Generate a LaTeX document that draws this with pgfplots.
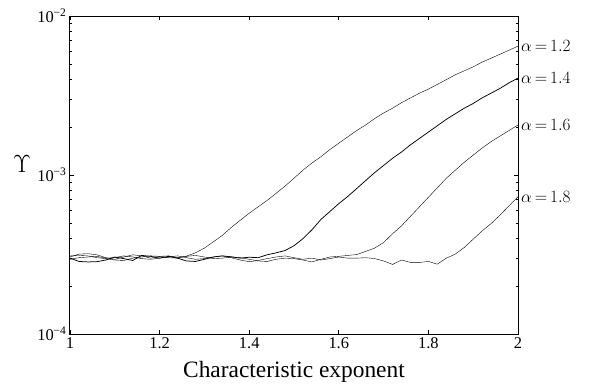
\documentclass[border=0pt]{standalone}
\usepackage{fontspec}
\setmainfont{Liberation Serif}
\usepackage{pgfplots}
\pgfplotsset{compat=1.18}
\begin{document}
\begin{tikzpicture}
\begin{axis}[
  scale only axis, width=448bp, height=318bp,
  at={(0,0)}, anchor=south west,
  xmin=1, xmax=2, ymin=1e-4, ymax=1e-2, ymode=log,
  xtick={1,1.2,1.4,1.6,1.8,2},
  ytick={1e-4,1e-3,1e-2},
  minor ytick={2e-4,3e-4,4e-4,5e-4,6e-4,7e-4,8e-4,9e-4,2e-3,3e-3,4e-3,5e-3,6e-3,7e-3,8e-3,9e-3},
  yticklabels={10\textsuperscript{−4},10\textsuperscript{−3},10\textsuperscript{−2}},
  /pgf/number format/assume math mode=true,
  tick align=inside, tick pos=both,
  xticklabel pos=lower, yticklabel pos=left,
  axis line style={line width=1bp, black},
  major tick length=4bp, minor tick length=2.5bp,
  every tick/.style={black, line width=0.7bp},
  ticklabel style={font=\fontsize{16.5}{18}\selectfont},
  xlabel={Characteristic exponent},
  xlabel style={font=\fontsize{23.5}{26}\selectfont, yshift=-6bp},
  clip=false,
  cycle list={{black, line width=0.75bp, no markers}},
]
% alpha = 1.2
\addplot coordinates {(1.00,3.05e-4)(1.02,3.18e-4)(1.04,3.20e-4)(1.06,3.15e-4)(1.08,3.02e-4)(1.10,2.95e-4)(1.12,3.05e-4)(1.14,3.15e-4)(1.16,3.10e-4)(1.18,3.00e-4)(1.20,3.08e-4)(1.22,3.10e-4)(1.24,3.02e-4)(1.26,3.09e-4)(1.28,3.24e-4)(1.30,3.47e-4)(1.32,3.80e-4)(1.34,4.17e-4)(1.36,4.68e-4)(1.38,5.19e-4)(1.40,5.75e-4)(1.42,6.31e-4)(1.44,6.92e-4)(1.46,7.67e-4)(1.48,8.51e-4)(1.50,9.55e-4)(1.52,1.072e-3)(1.54,1.189e-3)(1.56,1.303e-3)(1.58,1.445e-3)(1.60,1.585e-3)(1.62,1.738e-3)(1.64,1.905e-3)(1.66,2.065e-3)(1.68,2.265e-3)(1.70,2.455e-3)(1.72,2.63e-3)(1.74,2.85e-3)(1.76,3.055e-3)(1.78,3.27e-3)(1.80,3.47e-3)(1.82,3.715e-3)(1.84,3.98e-3)(1.86,4.27e-3)(1.88,4.52e-3)(1.90,4.79e-3)(1.92,5.13e-3)(1.94,5.43e-3)(1.96,5.75e-3)(1.98,6.10e-3)(2.00,6.46e-3)};
% alpha = 1.4
\addplot coordinates {(1.00,3.00e-4)(1.02,2.86e-4)(1.04,2.84e-4)(1.06,2.85e-4)(1.08,2.92e-4)(1.10,3.05e-4)(1.12,2.98e-4)(1.14,2.90e-4)(1.16,3.12e-4)(1.18,3.08e-4)(1.20,3.00e-4)(1.22,3.08e-4)(1.24,3.00e-4)(1.26,2.88e-4)(1.28,2.86e-4)(1.30,2.95e-4)(1.32,3.05e-4)(1.34,3.10e-4)(1.36,3.06e-4)(1.38,3.00e-4)(1.40,3.04e-4)(1.42,3.02e-4)(1.44,3.15e-4)(1.46,3.24e-4)(1.48,3.35e-4)(1.50,3.59e-4)(1.52,3.98e-4)(1.54,4.52e-4)(1.56,5.25e-4)(1.58,5.89e-4)(1.60,6.61e-4)(1.62,7.33e-4)(1.64,8.22e-4)(1.66,9.23e-4)(1.68,1.035e-3)(1.70,1.148e-3)(1.72,1.274e-3)(1.74,1.396e-3)(1.76,1.549e-3)(1.78,1.698e-3)(1.80,1.862e-3)(1.82,2.042e-3)(1.84,2.239e-3)(1.86,2.427e-3)(1.88,2.63e-3)(1.90,2.818e-3)(1.92,3.055e-3)(1.94,3.273e-3)(1.96,3.507e-3)(1.98,3.80e-3)(2.00,4.07e-3)};
% alpha = 1.6
\addplot coordinates {(1.00,3.10e-4)(1.02,3.12e-4)(1.04,3.10e-4)(1.06,3.02e-4)(1.08,2.98e-4)(1.10,2.92e-4)(1.12,2.90e-4)(1.14,3.00e-4)(1.16,3.05e-4)(1.18,3.10e-4)(1.20,3.08e-4)(1.22,3.02e-4)(1.24,3.00e-4)(1.26,3.08e-4)(1.28,3.12e-4)(1.30,3.05e-4)(1.32,2.98e-4)(1.34,3.00e-4)(1.36,3.05e-4)(1.38,3.02e-4)(1.40,2.95e-4)(1.42,2.88e-4)(1.44,2.86e-4)(1.46,2.95e-4)(1.48,3.00e-4)(1.50,2.98e-4)(1.52,2.92e-4)(1.54,2.84e-4)(1.56,2.95e-4)(1.58,3.05e-4)(1.60,3.08e-4)(1.62,3.12e-4)(1.64,3.16e-4)(1.66,3.31e-4)(1.68,3.47e-4)(1.70,3.76e-4)(1.72,4.27e-4)(1.74,4.79e-4)(1.76,5.50e-4)(1.78,6.31e-4)(1.80,7.24e-4)(1.82,8.32e-4)(1.84,9.55e-4)(1.86,1.072e-3)(1.88,1.202e-3)(1.90,1.334e-3)(1.92,1.479e-3)(1.94,1.622e-3)(1.96,1.758e-3)(1.98,1.905e-3)(2.00,2.065e-3)};
% alpha = 1.8
\addplot coordinates {(1.00,2.95e-4)(1.02,3.02e-4)(1.04,3.05e-4)(1.06,3.08e-4)(1.08,3.00e-4)(1.10,3.02e-4)(1.12,3.10e-4)(1.14,3.05e-4)(1.16,2.98e-4)(1.18,2.95e-4)(1.20,3.00e-4)(1.22,3.05e-4)(1.24,3.10e-4)(1.26,3.02e-4)(1.28,2.95e-4)(1.30,2.98e-4)(1.32,3.05e-4)(1.34,3.10e-4)(1.36,3.02e-4)(1.38,2.92e-4)(1.40,2.85e-4)(1.42,2.90e-4)(1.44,2.98e-4)(1.46,3.05e-4)(1.48,3.10e-4)(1.50,3.02e-4)(1.52,2.95e-4)(1.54,3.00e-4)(1.56,2.92e-4)(1.58,2.98e-4)(1.60,3.05e-4)(1.62,3.00e-4)(1.64,3.00e-4)(1.66,3.02e-4)(1.68,2.98e-4)(1.70,2.88e-4)(1.72,2.74e-4)(1.74,2.92e-4)(1.76,2.82e-4)(1.78,2.82e-4)(1.80,2.86e-4)(1.82,2.75e-4)(1.84,3.00e-4)(1.86,3.18e-4)(1.88,3.50e-4)(1.90,3.95e-4)(1.92,4.45e-4)(1.94,4.95e-4)(1.96,5.60e-4)(1.98,6.40e-4)(2.00,7.30e-4)};
\node[anchor=west, inner sep=3bp, font=\fontsize{18}{19}\selectfont] at (axis cs:2,6.46e-3) {$\alpha\,{=}\,1.2$};
\node[anchor=west, inner sep=3bp, font=\fontsize{18}{19}\selectfont] at (axis cs:2,4.07e-3) {$\alpha\,{=}\,1.4$};
\node[anchor=west, inner sep=3bp, font=\fontsize{18}{19}\selectfont] at (axis cs:2,2.065e-3) {$\alpha\,{=}\,1.6$};
\node[anchor=west, inner sep=3bp, font=\fontsize{18}{19}\selectfont] at (axis cs:2,7.30e-4) {$\alpha\,{=}\,1.8$};
\node[font=\fontsize{25}{26}\selectfont] at (rel axis cs:0,0.535) [xshift=-48bp] {$\Upsilon$};
\end{axis}
\pgfresetboundingbox
\path[use as bounding box] (-70bp,-55bp) rectangle (526bp,334bp);
\end{tikzpicture}
\end{document}
